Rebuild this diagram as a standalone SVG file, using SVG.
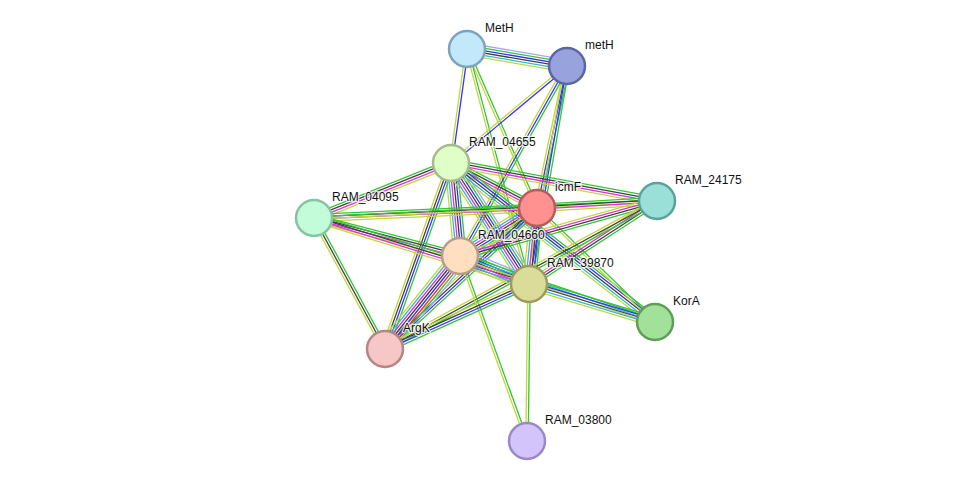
<svg xmlns="http://www.w3.org/2000/svg" xmlns:xlink="http://www.w3.org/1999/xlink" width="976" height="487" viewBox="0 0 976 487">
<style>
.e{stroke-width:1.3;fill:none}
.N{stroke:#36c536}.C{stroke:#3434ff}.X{stroke:#404040}.E{stroke:#e030e0}
.D{stroke:#30b8d8}.T{stroke:#c2d83a}.H{stroke:#a6a6f8}.F{stroke:#ff3030}
.node circle{stroke-width:2.5}
.node text{font-family:"Liberation Sans",Arial,sans-serif;font-size:12px;fill:#111;stroke:#fff;stroke-width:2.5;stroke-opacity:0.8;paint-order:stroke;stroke-linejoin:round}
</style>
<defs>
<line id="N" class="e N" x1="0" y1="0" x2="1" y2="0"/>
<line id="C" class="e C" x1="0" y1="0" x2="1" y2="0"/>
<line id="X" class="e X" x1="0" y1="0" x2="1" y2="0"/>
<line id="E" class="e E" x1="0" y1="0" x2="1" y2="0"/>
<line id="D" class="e D" x1="0" y1="0" x2="1" y2="0"/>
<line id="T" class="e T" x1="0" y1="0" x2="1" y2="0"/>
<line id="H" class="e H" x1="0" y1="0" x2="1" y2="0"/>
<line id="F" class="e F" x1="0" y1="0" x2="1" y2="0"/>
</defs>
<rect width="976" height="487" fill="#fff"/>
<g id="connectors">
<g transform="matrix(100 17 -0.168 0.986 467 49)"><use href="#H" y="-6"/><use href="#N" y="-3.6"/><use href="#C" y="-1.2"/><use href="#X" y="1.2"/><use href="#D" y="3.6"/><use href="#T" y="6"/></g>
<g transform="matrix(-16 114 -0.990 -0.139 467 49)"><use href="#C" y="-1.2"/><use href="#T" y="1.2"/></g>
<g transform="matrix(70 159 -0.915 0.403 467 49)"><use href="#N" y="-1.2"/><use href="#T" y="1.2"/></g>
<g transform="matrix(62 235 -0.967 0.255 467 49)"><use href="#N" y="-1.2"/><use href="#T" y="1.2"/></g>
<g transform="matrix(-116 97 -0.642 -0.767 567 66)"><use href="#C" y="-1.2"/><use href="#T" y="1.2"/></g>
<g transform="matrix(-30 142 -0.978 -0.207 567 66)"><use href="#N" y="-2.4"/><use href="#C" y="0"/><use href="#T" y="2.4"/></g>
<g transform="matrix(-38 218 -0.985 -0.172 567 66)"><use href="#N" y="-2.4"/><use href="#C" y="0"/><use href="#T" y="2.4"/></g>
<g transform="matrix(-107 190 -0.871 -0.491 567 66)"><use href="#N" y="-2.4"/><use href="#C" y="0"/><use href="#T" y="2.4"/></g>
<g transform="matrix(86 45 -0.464 0.886 451 163)"><use href="#N" y="-3.6"/><use href="#X" y="-1.2"/><use href="#E" y="1.2"/><use href="#T" y="3.6"/></g>
<g transform="matrix(206 38 -0.181 0.983 451 163)"><use href="#N" y="-3.6"/><use href="#X" y="-1.2"/><use href="#E" y="1.2"/><use href="#T" y="3.6"/></g>
<g transform="matrix(9 93 -0.995 0.096 451 163)"><use href="#N" y="-6"/><use href="#C" y="-3.6"/><use href="#X" y="-1.2"/><use href="#E" y="1.2"/><use href="#D" y="3.6"/><use href="#T" y="6"/></g>
<g transform="matrix(78 121 -0.841 0.542 451 163)"><use href="#H" y="-7.2"/><use href="#N" y="-4.8"/><use href="#C" y="-2.4"/><use href="#X" y="0"/><use href="#E" y="2.4"/><use href="#D" y="4.8"/><use href="#T" y="7.2"/></g>
<g transform="matrix(204 159 -0.615 0.789 451 163)"><use href="#N" y="-4.8"/><use href="#C" y="-2.4"/><use href="#X" y="0"/><use href="#D" y="2.4"/><use href="#T" y="4.8"/></g>
<g transform="matrix(-66 186 -0.942 -0.334 451 163)"><use href="#N" y="-3.6"/><use href="#C" y="-1.2"/><use href="#X" y="1.2"/><use href="#T" y="3.6"/></g>
<g transform="matrix(137 -55 0.373 0.928 314 218)"><use href="#N" y="-3.6"/><use href="#X" y="-1.2"/><use href="#E" y="1.2"/><use href="#T" y="3.6"/></g>
<g transform="matrix(223 -10 0.045 0.999 314 218)"><use href="#N" y="-3.6"/><use href="#X" y="-1.2"/><use href="#E" y="1.2"/><use href="#T" y="3.6"/></g>
<g transform="matrix(343 -17 0.050 0.999 314 218)"><use href="#N" y="-1.2"/><use href="#T" y="1.2"/></g>
<g transform="matrix(146 38 -0.252 0.968 314 218)"><use href="#N" y="-3.6"/><use href="#X" y="-1.2"/><use href="#E" y="1.2"/><use href="#T" y="3.6"/></g>
<g transform="matrix(215 66 -0.294 0.956 314 218)"><use href="#N" y="-3.6"/><use href="#X" y="-1.2"/><use href="#E" y="1.2"/><use href="#T" y="3.6"/></g>
<g transform="matrix(71 131 -0.879 0.477 314 218)"><use href="#N" y="-2.4"/><use href="#X" y="0"/><use href="#T" y="2.4"/></g>
<g transform="matrix(120 -7 0.058 0.998 537 208)"><use href="#N" y="-3.6"/><use href="#X" y="-1.2"/><use href="#E" y="1.2"/><use href="#T" y="3.6"/></g>
<g transform="matrix(-77 48 -0.529 -0.849 537 208)"><use href="#H" y="-7.2"/><use href="#N" y="-4.8"/><use href="#C" y="-2.4"/><use href="#X" y="0"/><use href="#E" y="2.4"/><use href="#D" y="4.8"/><use href="#T" y="7.2"/></g>
<g transform="matrix(-8 76 -0.995 -0.105 537 208)"><use href="#N" y="-6"/><use href="#C" y="-3.6"/><use href="#X" y="-1.2"/><use href="#E" y="1.2"/><use href="#D" y="3.6"/><use href="#T" y="6"/></g>
<g transform="matrix(118 114 -0.695 0.719 537 208)"><use href="#N" y="-1.2"/><use href="#T" y="1.2"/></g>
<g transform="matrix(-152 141 -0.680 -0.733 537 208)"><use href="#N" y="-3.6"/><use href="#C" y="-1.2"/><use href="#X" y="1.2"/><use href="#T" y="3.6"/></g>
<g transform="matrix(-197 55 -0.269 -0.963 657 201)"><use href="#N" y="-3.6"/><use href="#X" y="-1.2"/><use href="#E" y="1.2"/><use href="#T" y="3.6"/></g>
<g transform="matrix(-128 83 -0.544 -0.839 657 201)"><use href="#N" y="-3.6"/><use href="#X" y="-1.2"/><use href="#E" y="1.2"/><use href="#T" y="3.6"/></g>
<g transform="matrix(-272 148 -0.478 -0.878 657 201)"><use href="#N" y="-2.4"/><use href="#X" y="0"/><use href="#T" y="2.4"/></g>
<g transform="matrix(69 28 -0.376 0.927 460 256)"><use href="#H" y="-7.2"/><use href="#N" y="-4.8"/><use href="#C" y="-2.4"/><use href="#X" y="0"/><use href="#E" y="2.4"/><use href="#D" y="4.8"/><use href="#T" y="7.2"/></g>
<g transform="matrix(195 66 -0.321 0.947 460 256)"><use href="#N" y="-2.4"/><use href="#D" y="0"/><use href="#T" y="2.4"/></g>
<g transform="matrix(-75 93 -0.778 -0.628 460 256)"><use href="#H" y="-8.4"/><use href="#N" y="-6"/><use href="#F" y="-3.6"/><use href="#C" y="-1.2"/><use href="#X" y="1.2"/><use href="#E" y="3.6"/><use href="#D" y="6"/><use href="#T" y="8.4"/></g>
<g transform="matrix(67 185 -0.940 0.341 460 256)"><use href="#N" y="-1.2"/><use href="#T" y="1.2"/></g>
<g transform="matrix(126 38 -0.289 0.957 529 284)"><use href="#N" y="-4.8"/><use href="#C" y="-2.4"/><use href="#X" y="0"/><use href="#D" y="2.4"/><use href="#T" y="4.8"/></g>
<g transform="matrix(-144 65 -0.411 -0.912 529 284)"><use href="#N" y="-3.6"/><use href="#C" y="-1.2"/><use href="#X" y="1.2"/><use href="#T" y="3.6"/></g>
<g transform="matrix(-2 157 -1 -0.013 529 284)"><use href="#N" y="-1.2"/><use href="#T" y="1.2"/></g>
</g>
<g id="MetH" class="node"><circle cx="467" cy="49" r="18" fill="#c3e8fc" stroke="#7ba4bd"/><text x="485" y="31.5">MetH</text></g>
<g id="metH" class="node"><circle cx="567" cy="66" r="18" fill="#98a2dd" stroke="#5b66a5"/><text x="585" y="48.5">metH</text></g>
<g id="RAM_04655" class="node"><circle cx="451" cy="163" r="18" fill="#e0ffc8" stroke="#a4bc8c"/><text x="469" y="145.5">RAM_04655</text></g>
<g id="icmF" class="node"><circle cx="537" cy="208" r="18" fill="#ff9191" stroke="#b85c5c"/><text x="555" y="190.5">icmF</text></g>
<g id="RAM_24175" class="node"><circle cx="657" cy="201" r="18" fill="#9ae0d9" stroke="#5aa29a"/><text x="675" y="183.5">RAM_24175</text></g>
<g id="RAM_04095" class="node"><circle cx="314" cy="218" r="18" fill="#c2fcd9" stroke="#86c4a0"/><text x="332" y="200.5">RAM_04095</text></g>
<g id="RAM_04660" class="node"><circle cx="460" cy="256" r="18" fill="#ffdfc0" stroke="#b59f88"/><text x="478" y="238.5">RAM_04660</text></g>
<g id="RAM_39870" class="node"><circle cx="529" cy="284" r="18" fill="#dcdc9a" stroke="#9c9c5e"/><text x="547" y="266.5">RAM_39870</text></g>
<g id="KorA" class="node"><circle cx="655" cy="322" r="18" fill="#a1e199" stroke="#5e9e56"/><text x="673" y="304.5">KorA</text></g>
<g id="ArgK" class="node"><circle cx="385" cy="349" r="18" fill="#f7c6c6" stroke="#b48686"/><text x="403" y="331.5">ArgK</text></g>
<g id="RAM_03800" class="node"><circle cx="527" cy="441" r="18" fill="#d4c4fc" stroke="#9a88c8"/><text x="545" y="423.5">RAM_03800</text></g>
</svg>
